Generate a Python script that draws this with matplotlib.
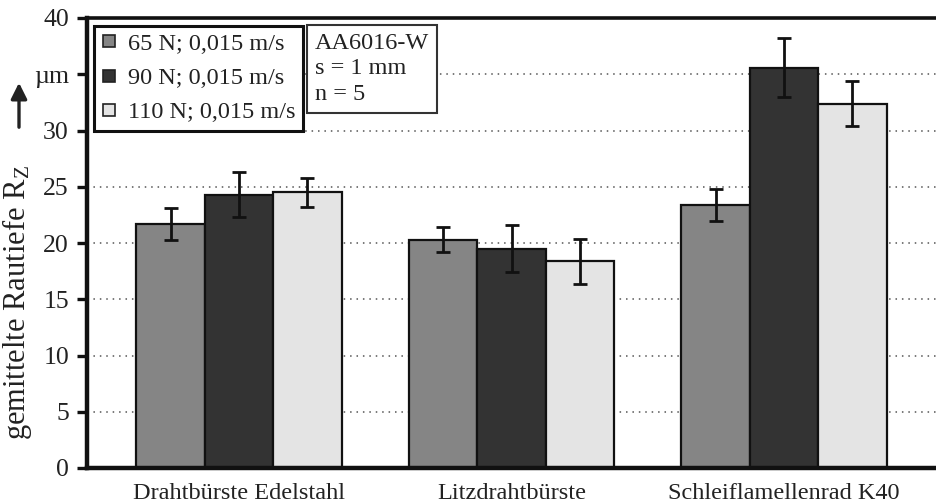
"""Mean roughness depth Rz for three brush tools at three contact forces."""
import matplotlib

matplotlib.use("Agg")
import matplotlib.pyplot as plt  # noqa: E402
import numpy as np  # noqa: E402
from matplotlib.lines import Line2D  # noqa: E402

plt.rcParams["font.family"] = ["Liberation Serif", "DejaVu Serif"]
plt.rcParams["mathtext.fontset"] = "custom"
plt.rcParams["mathtext.rm"] = "Liberation Serif"
plt.rcParams["mathtext.it"] = "Liberation Serif:italic"

TOOLS = ["Drahtbürste Edelstahl", "Litzdrahtbürste", "Schleiflamellenrad K40"]
SERIES = ["65 N; 0,015 m/s", "90 N; 0,015 m/s", "110 N; 0,015 m/s"]
RZ_65 = [21.7, 20.3, 23.4]
RZ_90 = [24.3, 19.5, 35.6]
RZ_110 = [24.5, 18.4, 32.4]
ERR_65 = [1.4, 1.1, 1.4]
ERR_90 = [2.0, 2.1, 2.6]
ERR_110 = [1.3, 2.0, 2.0]
Y_TICKS = [0, 5, 10, 15, 20, 25, 30, 35, 40]
Y_TICK_LABELS = ["0", "5", "10", "15", "20", "25", "30", "µm", "40"]

COLORS = ["#858585", "#333333", "#e4e4e4"]
W, H = 936, 503

fig = plt.figure(figsize=(W / 100, H / 100), dpi=100)
ax = fig.add_axes([87 / W, (H - 468) / H, (W - 87) / W, 450 / H])

x = np.arange(len(TOOLS))
bw = 0.251
values = [RZ_65, RZ_90, RZ_110]
errors = [ERR_65, ERR_90, ERR_110]
for i, (vals, errs) in enumerate(zip(values, errors)):
    pos = x + (i - 1) * bw
    ax.bar(pos, vals, bw, color=COLORS[i], edgecolor="#111111",
           linewidth=1.6, zorder=2)
    ax.errorbar(pos, vals, yerr=errs, fmt="none", ecolor="#111111",
                elinewidth=2.0, capsize=5, capthick=2.0, zorder=3)

for y in Y_TICKS[1:-1]:
    ax.axhline(y, color="#555555", linestyle=(0, (1, 3.2)), linewidth=1.1,
               zorder=1)

ax.set_xlim(-0.558, 2.558)
ax.set_ylim(0, 40)
ax.set_yticks(Y_TICKS)
ax.set_yticklabels(Y_TICK_LABELS)
ax.set_xticks(x)
ax.set_xticklabels(TOOLS)
ax.tick_params(axis="y", direction="out", length=7, width=2.4,
               labelsize=18.5, pad=6, colors="#111111")
ax.tick_params(axis="x", length=0, labelsize=17.5, pad=11, colors="#111111")
for lbl in ax.get_yticklabels() + ax.get_xticklabels():
    lbl.set_color("#222222")

ax.spines["right"].set_visible(False)
ax.spines["left"].set_linewidth(3.2)
ax.spines["bottom"].set_linewidth(3.2)
ax.spines["top"].set_linewidth(2.6)
for s in ax.spines.values():
    s.set_color("#111111")

handles = [Line2D([], [], linestyle="none", marker="s", markersize=8,
                  markerfacecolor=c, markeredgecolor="#222222",
                  markeredgewidth=1.2) for c in COLORS]
leg = ax.legend(handles, SERIES, loc="upper left",
                bbox_to_anchor=((94 - 87) / 849, (468 - 25.7) / 450),
                borderaxespad=0, fontsize=17.5, handlelength=0.6,
                handletextpad=0.5, labelspacing=0.5, borderpad=0.3,
                fancybox=False, framealpha=1)
leg.get_frame().set_edgecolor("#111111")
leg.get_frame().set_linewidth(2.2)
for t in leg.get_texts():
    t.set_color("#222222")

# material / process box next to the legend
ax.text((315 - 87) / 849, (468 - 33) / 450, "AA6016-W\ns = 1 mm\nn = 5",
        transform=ax.transAxes, ha="left", va="top", fontsize=17.5,
        linespacing=1.27, color="#222222", zorder=5,
        bbox=dict(boxstyle="square,pad=0.33", facecolor="white",
                  edgecolor="#333333", linewidth=1.5))

fig.text(17 / W, (H - 303) / H, "gemittelte Rautiefe R$_\\mathrm{Z}$",
         rotation=90, ha="center", va="center", fontsize=22,
         color="#222222")
fig.add_artist(matplotlib.patches.FancyArrowPatch(
    (19 / W, (H - 130) / H), (19 / W, (H - 80) / H),
    transform=fig.transFigure, arrowstyle="-|>", mutation_scale=24,
    linewidth=2.4, color="#222222"))

fig.savefig("out.png", dpi=100)
